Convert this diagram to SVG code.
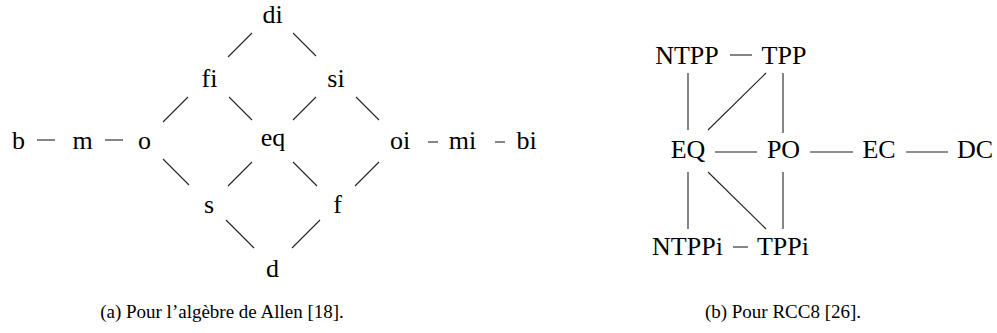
<svg xmlns="http://www.w3.org/2000/svg" width="997" height="333" viewBox="0 0 997 333">
<style>
text{font-family:"Liberation Serif","Times New Roman",serif;fill:#000;}
.n{font-size:26px;text-anchor:middle;}
.cap{font-size:19px;text-anchor:middle;}
.e line{stroke:#222;stroke-width:1.1;fill:none;}
</style>
<rect width="997" height="333" fill="#fff"/>
<g id="allen">
<g id="n-b"><text class="n" x="18.5" y="149">b</text></g>
<g id="n-m"><text class="n" x="82.5" y="149">m</text></g>
<g id="n-o"><text class="n" x="144.5" y="149">o</text></g>
<g id="n-di"><text class="n" x="272.5" y="23">di</text></g>
<g id="n-fi"><text class="n" x="209.5" y="87">fi</text></g>
<g id="n-si"><text class="n" x="336" y="87">si</text></g>
<g id="n-eq"><text class="n" x="273" y="146">eq</text></g>
<g id="n-oi"><text class="n" x="400" y="149">oi</text></g>
<g id="n-mi"><text class="n" x="462.5" y="149">mi</text></g>
<g id="n-bi"><text class="n" x="526.5" y="149">bi</text></g>
<g id="n-s"><text class="n" x="209" y="213">s</text></g>
<g id="n-f"><text class="n" x="337.5" y="213">f</text></g>
<g id="n-d"><text class="n" x="272.5" y="277">d</text></g>
</g>
<g id="rcc8">
<g id="n-NTPP"><text class="n" x="687" y="64">NTPP</text></g>
<g id="n-TPP"><text class="n" x="784" y="64">TPP</text></g>
<g id="n-EQ"><text class="n" x="688" y="158">EQ</text></g>
<g id="n-PO"><text class="n" x="783.5" y="158">PO</text></g>
<g id="n-EC"><text class="n" x="879" y="158">EC</text></g>
<g id="n-DC"><text class="n" x="975" y="158">DC</text></g>
<g id="n-NTPPi"><text class="n" x="687.5" y="255">NTPPi</text></g>
<g id="n-TPPi"><text class="n" x="783" y="255">TPPi</text></g>
</g>
<g id="connectors" class="e">
<line x1="37" y1="140" x2="55" y2="140"/>
<line x1="105" y1="140" x2="123" y2="140"/>
<line x1="428" y1="142" x2="438" y2="142"/>
<line x1="495" y1="142" x2="505" y2="142"/>
<line x1="252" y1="33" x2="228" y2="57"/>
<line x1="293" y1="33" x2="316" y2="56"/>
<line x1="188" y1="97" x2="163" y2="122"/>
<line x1="229" y1="97" x2="252" y2="120"/>
<line x1="316" y1="97" x2="293" y2="120"/>
<line x1="356" y1="97" x2="379" y2="120"/>
<line x1="163" y1="159" x2="189" y2="185"/>
<line x1="252" y1="162" x2="228" y2="186"/>
<line x1="293" y1="162" x2="317" y2="186"/>
<line x1="379" y1="162" x2="355" y2="186"/>
<line x1="226" y1="220" x2="254" y2="248"/>
<line x1="320" y1="220" x2="292" y2="248"/>
<line x1="730" y1="55" x2="752" y2="55"/>
<line x1="688" y1="73" x2="688" y2="130"/>
<line x1="783" y1="73" x2="783" y2="133"/>
<line x1="766" y1="73" x2="708" y2="130"/>
<line x1="715" y1="152" x2="757" y2="152"/>
<line x1="810" y1="152" x2="853" y2="152"/>
<line x1="906" y1="152" x2="948" y2="152"/>
<line x1="688" y1="172" x2="688" y2="229"/>
<line x1="708" y1="172" x2="766" y2="229"/>
<line x1="783" y1="172" x2="783" y2="229"/>
<line x1="733" y1="247" x2="748" y2="247"/>
</g>
<g id="captions">
<text class="cap" x="222" y="318">(a) Pour l’algèbre de Allen [18].</text>
<text class="cap" x="783" y="318">(b) Pour RCC8 [26].</text>
</g>
</svg>
